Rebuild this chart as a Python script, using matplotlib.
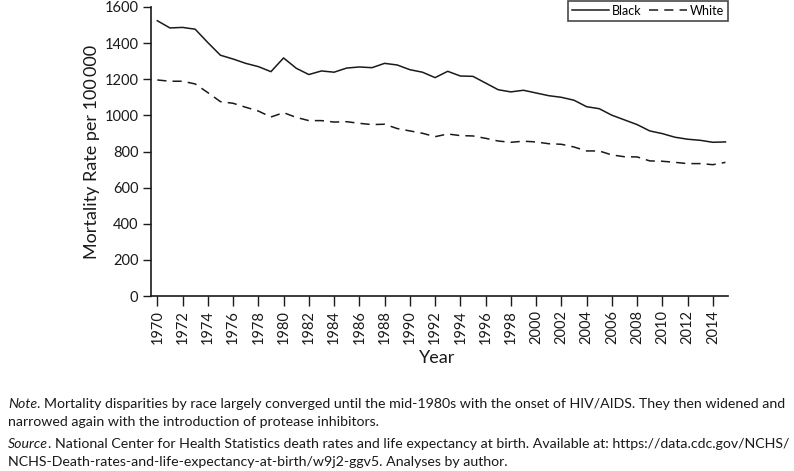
import numpy as np
import matplotlib.pyplot as plt

plt.rcParams['font.family'] = ['Lato', 'DejaVu Sans']

# Mortality rate per 100 000, by year
years = list(range(1970, 2016))
black = [1524, 1484, 1487, 1477, 1403, 1333, 1312, 1288, 1270, 1242,
         1318, 1261, 1226, 1246, 1239, 1262, 1268, 1264, 1288, 1279,
         1253, 1239, 1209, 1244, 1218, 1216, 1179, 1142, 1130, 1139,
         1124, 1109, 1100, 1084, 1048, 1037, 1001, 975, 949, 914,
         899, 879, 868, 862, 851, 853]
white = [1196, 1189, 1189, 1174, 1126, 1076, 1067, 1045, 1024, 991,
         1015, 989, 971, 971, 963, 965, 956, 949, 951, 927,
         914, 901, 882, 897, 888, 886, 873, 858, 851, 857,
         853, 843, 840, 825, 803, 803, 781, 771, 770, 748,
         746, 740, 733, 733, 727, 740]
xticks = list(range(1970, 2015, 2))
yticks = list(range(0, 1601, 200))

note_lines = [
    ("Note", ". Mortality disparities by race largely converged until the mid-1980s with the onset of HIV/AIDS. They then widened and"),
    (None, "narrowed again with the introduction of protease inhibitors."),
    ("Source", ". National Center for Health Statistics death rates and life expectancy at birth. Available at: https://data.cdc.gov/NCHS/"),
    (None, "NCHS-Death-rates-and-life-expectancy-at-birth/w9j2-ggv5. Analyses by author."),
]
note_y = [404, 422, 444, 462]

fig = plt.figure(figsize=(7.94, 4.71), dpi=100)
ax = fig.add_axes([151 / 794, 1 - 296 / 471, (728 - 151) / 794, (296 - 7) / 471])

ink = '#1a1a1a'
ax.plot(years, black, color=ink, lw=1.1, label='Black')
ax.plot(years, white, color=ink, lw=1.1, dashes=(6, 4), label='White')

ax.set_xlim(1969.5, 2015.2)
ax.set_ylim(0, 1600)
ax.set_xticks(xticks)
ax.set_xticklabels([str(y) for y in xticks], rotation=90, fontsize=10.5)
ax.set_yticks(yticks)
ax.tick_params(axis='y', labelsize=10.5, length=6, width=1, pad=3, colors=ink)
ax.tick_params(axis='x', length=7, width=1, pad=3, colors=ink)
for s in ['top', 'right']:
    ax.spines[s].set_visible(False)
for s in ['left', 'bottom']:
    ax.spines[s].set_linewidth(1.2)
    ax.spines[s].set_color(ink)

ax.set_ylabel('Mortality Rate per 100\u2009000', fontsize=13, color=ink)
ax.set_xlabel('Year', fontsize=13, color=ink)
ax.yaxis.set_label_coords(-(151 - 92) / 577, 0.5)
ax.xaxis.set_label_coords((437 - 151) / 577, -(358 - 296) / 289)
ax.xaxis.label.set_va('center')
ax.yaxis.label.set_va('center')

leg = ax.legend(ncol=2, loc='upper right', bbox_to_anchor=(728 / 794, 1 - 1 / 471),
                bbox_transform=fig.transFigure, fontsize=9, frameon=True,
                fancybox=False, edgecolor=ink, handlelength=3.0, handletextpad=0.25,
                columnspacing=0.6, borderpad=0.3, borderaxespad=0)
leg.get_frame().set_linewidth(1.2)

renderer = fig.canvas.get_renderer()
for (lead, rest), yp in zip(note_lines, note_y):
    x0 = 8 / 794
    y0 = 1 - yp / 471
    if lead:
        t = fig.text(x0, y0, lead, fontsize=10.2, style='italic', va='center', color=ink)
        bb = t.get_window_extent(renderer)
        x0 = bb.x1 / fig.bbox.width
    fig.text(x0, y0, rest, fontsize=10.2, va='center', color=ink)

fig.savefig('out.png', dpi=100)
